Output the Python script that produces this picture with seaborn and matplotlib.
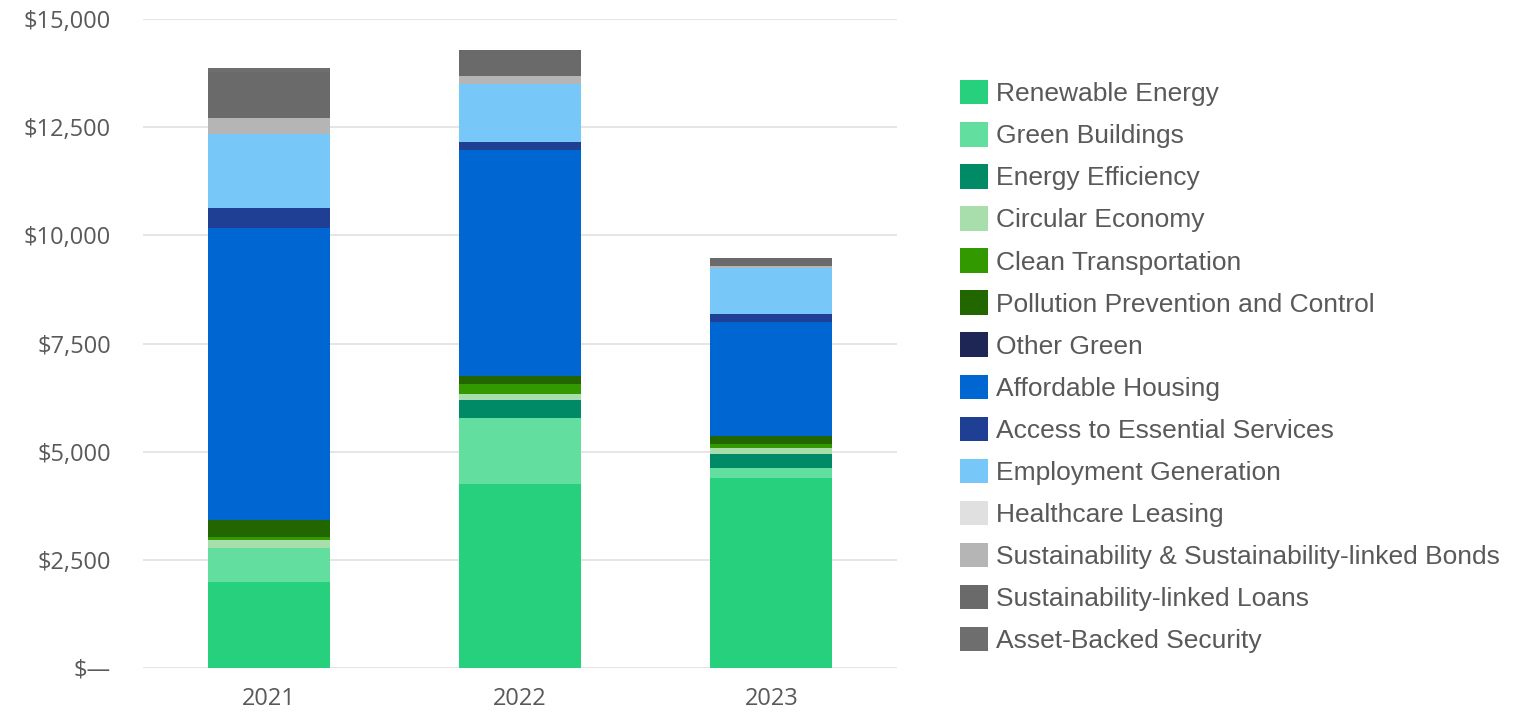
import numpy as np
import pandas as pd
import seaborn as sns
import matplotlib.pyplot as plt
from matplotlib.patches import Patch
from matplotlib.ticker import FuncFormatter

years = ["2021", "2022", "2023"]

categories = [
    "Renewable Energy",
    "Green Buildings",
    "Energy Efficiency",
    "Circular Economy",
    "Clean Transportation",
    "Pollution Prevention and Control",
    "Other Green",
    "Affordable Housing",
    "Access to Essential Services",
    "Employment Generation",
    "Healthcare Leasing",
    "Sustainability & Sustainability-linked Bonds",
    "Sustainability-linked Loans",
    "Asset-Backed Security",
]

renewable_energy = [1990, 4250, 4390]
green_buildings = [790, 1525, 230]
energy_efficiency = [0, 415, 325]
circular_economy = [185, 140, 140]
clean_transportation = [55, 230, 90]
pollution_prevention = [410, 185, 185]
other_green = [0, 0, 0]
affordable_housing = [6750, 5225, 2635]
access_services = [460, 185, 185]
employment_generation = [1710, 1340, 1065]
healthcare_leasing = [0, 0, 0]
sustainability_bonds = [370, 185, 45]
sustainability_loans = [1065, 600, 185]
asset_backed = [90, 0, 0]

colors = [
    "#27d07d", "#62de9e", "#008a66", "#a8deac", "#339900", "#226600",
    "#1e2656", "#0066d1", "#1f3f94", "#77c8f8", "#e0e0e0", "#b5b5b5",
    "#6a6a6a", "#6e6e6e",
]

series = [
    renewable_energy, green_buildings, energy_efficiency, circular_economy,
    clean_transportation, pollution_prevention, other_green, affordable_housing,
    access_services, employment_generation, healthcare_leasing,
    sustainability_bonds, sustainability_loans, asset_backed,
]

sns.set_theme(style="white")
plt.rcParams["font.family"] = ["Liberation Sans", "DejaVu Sans"]

fig = plt.figure(figsize=(15.32, 7.12), dpi=100)
ax = fig.add_axes([143 / 1532, 1 - 668 / 712, (897 - 143) / 1532, (668 - 19) / 712])

bottom = np.zeros(len(years))
for name, values, color in zip(categories, series, colors):
    df = pd.DataFrame({"year": years, "value": values})
    sns.barplot(
        data=df,
        x="year",
        y="value",
        order=years,
        color=color,
        bottom=bottom.copy(),
        width=0.486,
        saturation=1,
        linewidth=0,
        ax=ax,
    )
    bottom += np.array(values, dtype=float)

ax.set_xlim(-0.5, 2.5)
ax.set_ylim(0, 15000)
ax.set_yticks([0, 2500, 5000, 7500, 10000, 12500, 15000])
ax.yaxis.set_major_formatter(
    FuncFormatter(lambda v, p: "$\u2014" if v == 0 else "${:,.0f}".format(v))
)
ax.yaxis.grid(True, color="#e0e0e0", linewidth=1.2)
ax.set_axisbelow(True)
for spine in ax.spines.values():
    spine.set_visible(False)
ax.set_xlabel("")
ax.set_ylabel("")
ax.tick_params(axis="y", length=0, pad=23, labelsize=17, labelcolor="#595959")
ax.tick_params(axis="x", length=0, pad=14, labelsize=17, labelcolor="#595959")
for lab in ax.get_xticklabels() + ax.get_yticklabels():
    lab.set_family(["Open Sans", "DejaVu Sans"])

handles = [Patch(facecolor=c, edgecolor="none", label=n) for n, c in zip(categories, colors)]
fig.legend(
    handles=handles,
    loc="upper left",
    bbox_to_anchor=(960 / 1532, 1 - 80 / 712),
    frameon=False,
    fontsize=19,
    labelcolor="#595959",
    handlelength=1.05,
    handleheight=1.05,
    handletextpad=0.3,
    labelspacing=0.6,
    borderaxespad=0,
    borderpad=0,
)

fig.savefig("out.png", dpi=100)
